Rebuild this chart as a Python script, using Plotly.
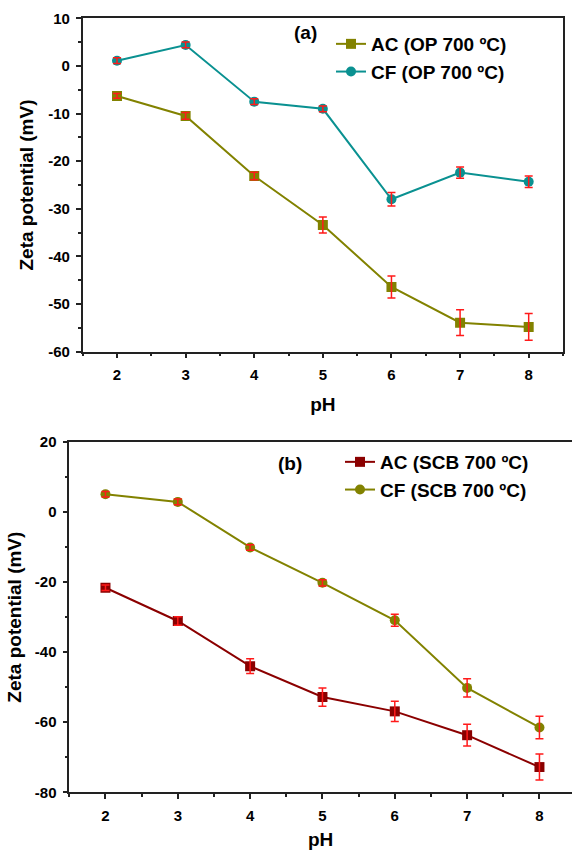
import plotly.graph_objects as go

pH = [2, 3, 4, 5, 6, 7, 8]

# Panel (a): OP 700 ºC
ac_op = [-6.3, -10.5, -23.1, -33.4, -46.4, -53.9, -54.8]
ac_op_err = [0.5, 0.7, 0.8, 1.7, 2.3, 2.7, 2.8]
cf_op = [1.1, 4.4, -7.5, -9.0, -28.0, -22.4, -24.3]
cf_op_err = [0.6, 0.6, 0.6, 0.6, 1.4, 1.2, 1.2]

# Panel (b): SCB 700 ºC
ac_scb = [-21.6, -31.1, -44.0, -52.8, -56.9, -63.7, -72.8]
ac_scb_err = [0.8, 1.2, 2.1, 2.6, 2.9, 3.1, 3.7]
cf_scb = [5.1, 2.9, -10.1, -20.2, -30.9, -50.2, -61.5]
cf_scb_err = [0.8, 0.8, 0.8, 0.9, 1.7, 2.6, 3.2]

names_a = ["AC (OP 700 ºC)", "CF (OP 700 ºC)"]
names_b = ["AC (SCB 700 ºC)", "CF (SCB 700 ºC)"]

yticks_a = [-60, -50, -40, -30, -20, -10, 0, 10]
yticklabels_a = ["-60", "-50", "-40", "-30", "-20", "-10", "0", "10"]
yticks_b = [-80, -60, -40, -20, 0, 20]
yticklabels_b = ["-80", "-60", "-40", "-20", "0", "20"]
xticklabels = ["2", "3", "4", "5", "6", "7", "8"]

OLIVE = "#828200"
TEAL = "#0A9191"
DARKRED = "#8B0000"
RED = "#FF1A1A"
FONT = "Liberation Sans, Arial, sans-serif"

W, H = 572, 850

fig = go.Figure()

def add_series(x, y, name, color, symbol, xa, ya, legend):
    fig.add_trace(go.Scatter(
        x=x, y=y, mode="lines+markers", name=name,
        line=dict(color=color, width=2),
        marker=dict(color=color, symbol=symbol, size=10),
        xaxis=xa, yaxis=ya, legend=legend,
    ))

def add_err(x, y, err, xa, ya):
    fig.add_trace(go.Scatter(
        x=x, y=y, mode="markers", showlegend=False, hoverinfo="skip",
        marker=dict(opacity=0, size=1),
        error_y=dict(type="data", array=err, visible=True, color=RED,
                     thickness=1.5, width=4),
        xaxis=xa, yaxis=ya,
    ))

add_series(pH, ac_op, names_a[0], OLIVE, "square", "x", "y", "legend")
add_series(pH, cf_op, names_a[1], TEAL, "circle", "x", "y", "legend")
add_err(pH, ac_op, ac_op_err, "x", "y")
add_err(pH, cf_op, cf_op_err, "x", "y")

add_series(pH, ac_scb, names_b[0], DARKRED, "square", "x2", "y2", "legend2")
add_series(pH, cf_scb, names_b[1], OLIVE, "circle", "x2", "y2", "legend2")
add_err(pH, ac_scb, ac_scb_err, "x2", "y2")
add_err(pH, cf_scb, cf_scb_err, "x2", "y2")

tickfont = dict(family=FONT, size=15, color="black", weight="bold")
titlefont = dict(family=FONT, size=19, color="black", weight="bold")
axline = dict(showline=True, linecolor="#222", linewidth=1.5, mirror=True,
              ticks="outside", ticklen=5, tickwidth=1.5, tickcolor="#222",
              showgrid=False, zeroline=False, tickfont=tickfont, automargin=False)
minor_x = dict(ticks="outside", ticklen=3, tickwidth=1.5, tickcolor="#222", dtick=0.5, tick0=1.5)

def px_x(p):
    return p / W

def px_y(p):
    return 1 - p / H

fig.update_layout(
    width=W, height=H,
    margin=dict(l=0, r=0, t=0, b=0, autoexpand=False),
    paper_bgcolor="white", plot_bgcolor="white",
    showlegend=True,
    xaxis=dict(domain=[px_x(82.7), px_x(563)], range=[1.5, 8.5], anchor="y",
               tickvals=pH, ticktext=xticklabels, ticklabelstandoff=4,
               minor=minor_x,
               title=dict(text="pH", font=titlefont, standoff=15), **axline),
    yaxis=dict(domain=[px_y(351.7), px_y(18.3)], range=[-60, 10], anchor="x",
               tickvals=yticks_a, ticktext=yticklabels_a, ticklabelstandoff=3,
               minor=dict(ticks="outside", ticklen=3, tickwidth=1.5, tickcolor="#222", dtick=5, tick0=0),
               title=dict(text="Zeta potential (mV)", font=titlefont, standoff=10), **axline),
    xaxis2=dict(domain=[px_x(69.3), 1.0], range=[1.5, 8.45], anchor="y2",
                tickvals=pH, ticktext=xticklabels, ticklabelstandoff=4,
                minor=minor_x,
                title=dict(text="pH", font=titlefont, standoff=14), **axline),
    yaxis2=dict(domain=[px_y(792.3), px_y(442)], range=[-80, 20], anchor="x2",
                tickvals=yticks_b, ticktext=yticklabels_b, ticklabelstandoff=3,
                minor=dict(ticks="outside", ticklen=3, tickwidth=1.5, tickcolor="#222", dtick=10, tick0=0),
                title=dict(text="Zeta potential (mV)", font=titlefont, standoff=8), **axline),
    legend=dict(x=px_x(331), y=px_y(25), xanchor="left", yanchor="top",
                bgcolor="rgba(0,0,0,0)", font=dict(family=FONT, size=19, color="black", weight="bold")),
    legend2=dict(x=px_x(340), y=px_y(443), xanchor="left", yanchor="top",
                 bgcolor="rgba(0,0,0,0)", font=dict(family=FONT, size=19, color="black", weight="bold")),
    annotations=[
        dict(text="(a)", x=px_x(305), y=px_y(33), xref="paper", yref="paper",
             xanchor="center", yanchor="middle", showarrow=False,
             font=dict(family=FONT, size=19, color="black", weight="bold")),
        dict(text="(b)", x=px_x(290), y=px_y(463), xref="paper", yref="paper",
             xanchor="center", yanchor="middle", showarrow=False,
             font=dict(family=FONT, size=19, color="black", weight="bold")),
    ],
)

fig.write_html(
    "out.html",
    config={"displayModeBar": False},
    post_script="document.body.style.margin='0';document.body.style.overflow='hidden';",
)
